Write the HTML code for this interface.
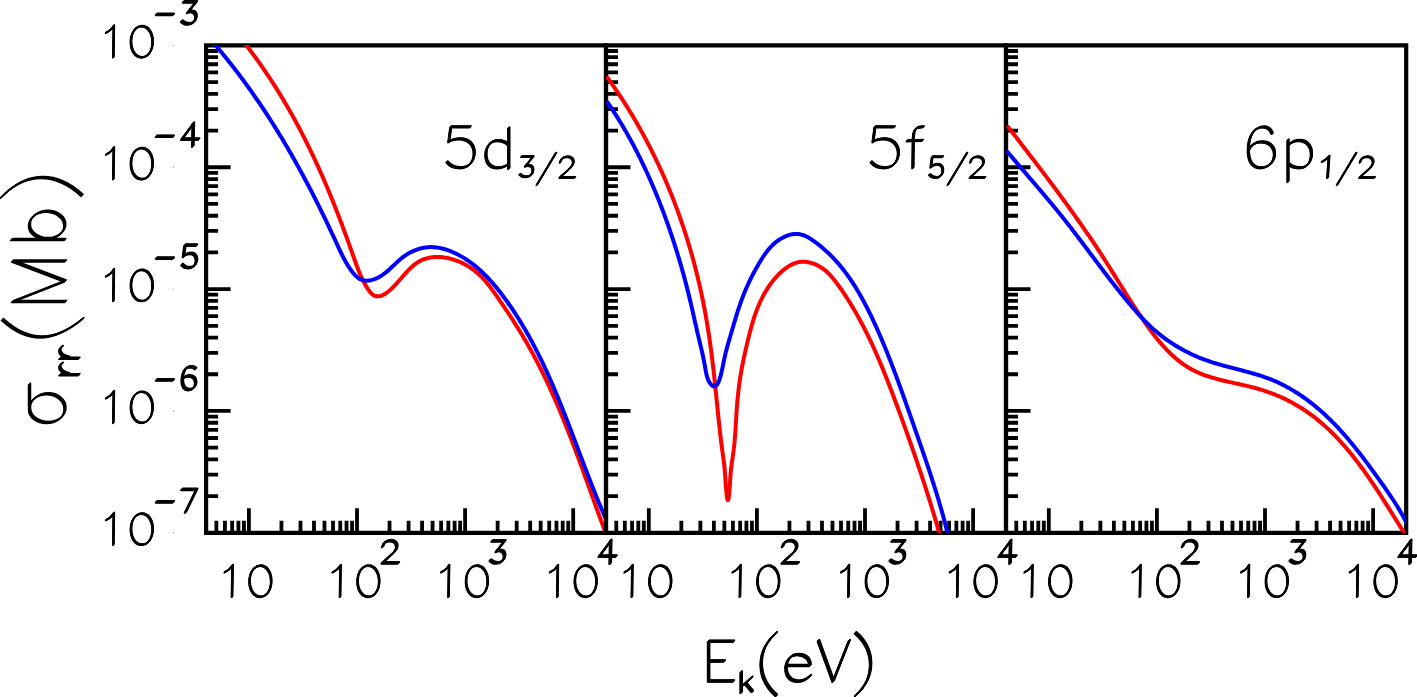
<!DOCTYPE html>
<html><head><meta charset="utf-8"><title>Radiative recombination cross sections</title>
<style>html,body{margin:0;padding:0;background:#fff;width:1417px;height:697px;overflow:hidden;font-family:"Liberation Sans",sans-serif}svg{display:block}</style>
</head><body>
<svg width="1417" height="697" viewBox="0 0 1417 697"><defs><clipPath id="c0"><rect x="202.1" y="45.1" width="403.9" height="487.7"/></clipPath><clipPath id="c1"><rect x="602" y="45.1" width="404" height="487.7"/></clipPath><clipPath id="c2"><rect x="1002" y="45.1" width="404.2" height="487.7"/></clipPath></defs><g stroke="#000" fill="none"><path d="M206.1,45.4 H606 V532.8 H206.1 Z" stroke-width="4.2"/><path d="M206.1,130.57H218.1M206.1,109.11H218.1M206.1,93.89H218.1M206.1,82.08H218.1M206.1,72.43H218.1M206.1,64.27H218.1M206.1,57.21H218.1M206.1,50.98H218.1M206.1,167.25H230.6M206.1,252.42H218.1M206.1,230.96H218.1M206.1,215.74H218.1M206.1,203.93H218.1M206.1,194.28H218.1M206.1,186.12H218.1M206.1,179.06H218.1M206.1,172.83H218.1M206.1,289.1H230.6M206.1,374.27H218.1M206.1,352.81H218.1M206.1,337.59H218.1M206.1,325.78H218.1M206.1,316.13H218.1M206.1,307.97H218.1M206.1,300.91H218.1M206.1,294.68H218.1M206.1,410.95H230.6M206.1,496.12H218.1M206.1,474.66H218.1M206.1,459.44H218.1M206.1,447.63H218.1M206.1,437.98H218.1M206.1,429.82H218.1M206.1,422.76H218.1M206.1,416.53H218.1M248.9,532.8V508.3M357,532.8V508.3M465.1,532.8V508.3M573.2,532.8V508.3M216.36,532.8V520.8M224.92,532.8V520.8M232.16,532.8V520.8M238.42,532.8V520.8M243.95,532.8V520.8M281.44,532.8V520.8M300.48,532.8V520.8M313.98,532.8V520.8M324.46,532.8V520.8M333.02,532.8V520.8M340.26,532.8V520.8M346.52,532.8V520.8M352.05,532.8V520.8M389.54,532.8V520.8M408.58,532.8V520.8M422.08,532.8V520.8M432.56,532.8V520.8M441.12,532.8V520.8M448.36,532.8V520.8M454.62,532.8V520.8M460.15,532.8V520.8M497.64,532.8V520.8M516.68,532.8V520.8M530.18,532.8V520.8M540.66,532.8V520.8M549.22,532.8V520.8M556.46,532.8V520.8M562.72,532.8V520.8M568.25,532.8V520.8" stroke-width="3.8"/></g><g clip-path="url(#c0)" fill="none" stroke-width="4" stroke-linejoin="round" stroke-linecap="round"><path stroke="#ff0000" d="M241.82,39.55L242.76,40.73L243.69,41.92L244.62,43.1L245.55,44.29L246.47,45.49L247.39,46.68L248.31,47.88L249.22,49.07L250.13,50.28L251.03,51.48L251.93,52.68L252.83,53.89L253.72,55.1L254.61,56.31L255.5,57.53L256.38,58.75L257.25,59.96L258.13,61.19L259,62.41L259.87,63.64L260.73,64.86L261.59,66.09L262.44,67.33L263.3,68.56L264.15,69.8L264.99,71.03L265.83,72.28L266.67,73.52L267.51,74.76L268.34,76.01L269.16,77.26L269.99,78.51L270.81,79.76L271.63,81.02L272.44,82.28L273.25,83.54L274.06,84.8L274.86,86.06L275.66,87.33L276.46,88.59L277.25,89.86L278.04,91.13L278.83,92.41L279.61,93.68L280.39,94.96L281.17,96.24L281.94,97.52L282.71,98.8L283.48,100.08L284.24,101.37L285,102.66L285.76,103.95L286.51,105.24L287.26,106.53L288.01,107.83L288.75,109.13L289.5,110.43L290.23,111.73L290.97,113.03L291.7,114.33L292.43,115.64L293.15,116.95L293.88,118.26L294.6,119.57L295.31,120.88L296.03,122.2L296.74,123.51L297.45,124.83L298.15,126.15L298.85,127.47L299.55,128.79L300.25,130.12L300.94,131.44L301.63,132.77L302.32,134.1L303,135.43L303.68,136.76L304.36,138.1L305.04,139.43L305.71,140.77L306.38,142.11L307.05,143.45L307.71,144.79L308.37,146.13L309.03,147.48L309.69,148.82L310.34,150.17L310.99,151.52L311.64,152.87L312.29,154.22L312.93,155.57L313.57,156.93L314.21,158.29L314.84,159.64L315.47,161L316.1,162.36L316.73,163.72L317.35,165.08L317.98,166.45L318.59,167.81L319.21,169.18L319.83,170.55L320.44,171.92L321.05,173.29L321.65,174.66L322.26,176.03L322.86,177.41L323.46,178.78L324.06,180.16L324.65,181.54L325.24,182.92L325.83,184.3L326.42,185.68L327.01,187.06L327.59,188.44L328.17,189.83L328.75,191.21L329.32,192.6L329.9,193.99L330.47,195.38L331.04,196.77L331.6,198.16L332.17,199.55L332.73,200.94L333.29,202.34L333.85,203.73L334.4,205.13L334.96,206.53L335.51,207.93L336.06,209.33L336.61,210.73L337.15,212.13L337.7,213.53L338.24,214.93L338.78,216.34L339.31,217.74L339.85,219.15L340.38,220.55L340.91,221.96L341.44,223.37L341.97,224.78L342.49,226.18L343.02,227.59L343.54,229L344.06,230.41L344.58,231.82L345.09,233.22L345.61,234.63L346.12,236.04L346.63,237.44L347.14,238.85L347.65,240.25L348.16,241.66L348.66,243.06L349.17,244.46L349.67,245.86L350.17,247.26L350.67,248.66L351.17,250.05L351.66,251.45L352.16,252.84L352.65,254.23L353.14,255.62L353.63,257.01L354.12,258.39L354.61,259.77L355.1,261.15L355.59,262.53L356.09,263.91L356.59,265.29L357.1,266.67L357.63,268.05L358.16,269.44L358.71,270.82L359.28,272.21L359.86,273.61L360.47,275.01L361.1,276.42L361.76,277.83L362.44,279.25L363.16,280.68L363.9,282.11L364.68,283.56L365.49,285.01L366.35,286.48L367.24,287.95L368.17,289.4L369.14,290.78L370.14,292.08L371.17,293.24L372.24,294.25L373.33,295.06L374.45,295.66L375.6,296.07L376.77,296.3L377.95,296.36L379.15,296.25L380.36,296L381.58,295.6L382.81,295.09L384.04,294.46L385.26,293.72L386.49,292.9L387.7,291.99L388.91,291.02L390.1,289.99L391.28,288.91L392.44,287.8L393.58,286.67L394.71,285.5L395.82,284.32L396.91,283.13L398,281.92L399.07,280.7L400.14,279.48L401.2,278.25L402.26,277.03L403.32,275.81L404.38,274.61L405.44,273.42L406.5,272.24L407.57,271.09L408.65,269.96L409.73,268.86L410.83,267.8L411.94,266.77L413.07,265.77L414.21,264.83L415.38,263.93L416.56,263.08L417.77,262.29L419,261.55L420.25,260.88L421.53,260.26L422.83,259.7L424.15,259.19L425.48,258.74L426.84,258.34L428.21,257.99L429.59,257.7L430.99,257.45L432.4,257.26L433.82,257.12L435.26,257.02L436.7,256.98L438.15,256.98L439.6,257.02L441.06,257.11L442.53,257.25L444,257.43L445.46,257.65L446.93,257.91L448.4,258.22L449.87,258.56L451.33,258.95L452.79,259.37L454.24,259.83L455.69,260.32L457.12,260.86L458.55,261.42L459.97,262.02L461.37,262.66L462.76,263.32L464.14,264.02L465.5,264.75L466.85,265.51L468.17,266.3L469.48,267.11L470.77,267.95L472.03,268.82L473.27,269.72L474.49,270.63L475.68,271.58L476.85,272.54L477.99,273.53L479.1,274.54L480.19,275.56L481.25,276.61L482.29,277.68L483.32,278.76L484.32,279.86L485.3,280.97L486.27,282.1L487.22,283.24L488.15,284.4L489.07,285.56L489.98,286.74L490.88,287.92L491.77,289.12L492.64,290.32L493.52,291.53L494.38,292.74L495.24,293.96L496.1,295.18L496.95,296.41L497.8,297.63L498.65,298.86L499.5,300.09L500.35,301.33L501.2,302.56L502.04,303.8L502.88,305.03L503.73,306.27L504.56,307.52L505.4,308.76L506.23,310L507.07,311.25L507.9,312.5L508.72,313.75L509.55,315.01L510.37,316.26L511.19,317.52L512.01,318.78L512.82,320.04L513.63,321.3L514.44,322.57L515.24,323.84L516.04,325.11L516.84,326.38L517.64,327.65L518.43,328.93L519.22,330.2L520,331.48L520.78,332.77L521.56,334.05L522.33,335.34L523.1,336.62L523.86,337.91L524.63,339.21L525.38,340.5L526.14,341.8L526.88,343.1L527.63,344.4L528.37,345.7L529.1,347.01L529.83,348.31L530.56,349.62L531.29,350.93L532,352.25L532.72,353.56L533.43,354.88L534.14,356.2L534.84,357.52L535.54,358.84L536.24,360.17L536.93,361.5L537.62,362.83L538.3,364.16L538.98,365.49L539.66,366.82L540.34,368.16L541.01,369.5L541.67,370.84L542.34,372.18L543,373.52L543.65,374.87L544.3,376.21L544.95,377.56L545.6,378.91L546.24,380.26L546.88,381.61L547.52,382.97L548.16,384.32L548.79,385.68L549.41,387.04L550.04,388.4L550.66,389.76L551.28,391.12L551.89,392.49L552.51,393.85L553.12,395.22L553.72,396.59L554.33,397.96L554.93,399.33L555.53,400.7L556.13,402.08L556.72,403.45L557.31,404.83L557.9,406.2L558.49,407.58L559.07,408.96L559.65,410.34L560.23,411.72L560.81,413.11L561.39,414.49L561.96,415.88L562.53,417.26L563.1,418.65L563.66,420.04L564.23,421.42L564.79,422.81L565.35,424.21L565.91,425.6L566.46,426.99L567.02,428.38L567.57,429.78L568.12,431.17L568.67,432.57L569.21,433.96L569.76,435.36L570.3,436.76L570.84,438.16L571.38,439.56L571.92,440.96L572.46,442.36L572.99,443.76L573.53,445.16L574.06,446.57L574.59,447.97L575.12,449.37L575.65,450.78L576.18,452.18L576.71,453.59L577.23,454.99L577.75,456.4L578.28,457.81L578.8,459.21L579.32,460.62L579.84,462.03L580.36,463.44L580.88,464.84L581.39,466.25L581.91,467.66L582.43,469.07L582.94,470.48L583.45,471.89L583.97,473.3L584.48,474.71L584.99,476.12L585.5,477.53L586.01,478.94L586.52,480.35L587.03,481.76L587.54,483.17L588.05,484.58L588.56,485.99L589.07,487.4L589.58,488.82L590.09,490.23L590.6,491.64L591.1,493.05L591.61,494.46L592.12,495.87L592.63,497.28L593.13,498.69L593.64,500.1L594.15,501.51L594.66,502.92L595.16,504.32L595.67,505.73L596.18,507.14L596.69,508.55L597.2,509.96L597.71,511.36L598.22,512.77L598.73,514.18L599.24,515.58L599.75,516.99L600.26,518.39L600.77,519.8L601.29,521.2L601.8,522.61L602.31,524.01L602.83,525.41L603.35,526.81L603.86,528.22L604.38,529.62L604.9,531.02L605.42,532.42L605.94,533.81"/><path stroke="#0000ff" d="M211.2,40.2L212.18,41.34L213.17,42.47L214.14,43.61L215.12,44.75L216.09,45.9L217.07,47.05L218.03,48.19L219,49.34L219.96,50.5L220.92,51.65L221.87,52.81L222.83,53.97L223.78,55.13L224.72,56.3L225.67,57.46L226.61,58.63L227.54,59.8L228.48,60.97L229.41,62.15L230.34,63.32L231.27,64.5L232.19,65.68L233.11,66.86L234.03,68.05L234.95,69.23L235.86,70.42L236.77,71.61L237.67,72.8L238.58,74L239.48,75.2L240.38,76.39L241.27,77.59L242.17,78.8L243.06,80L243.94,81.21L244.83,82.41L245.71,83.62L246.59,84.83L247.47,86.05L248.34,87.26L249.21,88.48L250.08,89.7L250.94,90.92L251.81,92.14L252.67,93.37L253.53,94.59L254.38,95.82L255.23,97.05L256.09,98.28L256.93,99.52L257.78,100.75L258.62,101.99L259.46,103.22L260.3,104.46L261.13,105.71L261.96,106.95L262.79,108.19L263.62,109.44L264.45,110.69L265.27,111.94L266.09,113.19L266.91,114.44L267.72,115.7L268.53,116.96L269.34,118.21L270.15,119.47L270.96,120.73L271.76,122L272.56,123.26L273.36,124.53L274.15,125.79L274.95,127.06L275.74,128.33L276.53,129.6L277.31,130.88L278.1,132.15L278.88,133.43L279.66,134.71L280.43,135.99L281.21,137.27L281.98,138.55L282.75,139.83L283.52,141.12L284.28,142.4L285.05,143.69L285.81,144.98L286.57,146.27L287.32,147.56L288.08,148.85L288.83,150.15L289.58,151.44L290.33,152.74L291.07,154.04L291.82,155.34L292.56,156.64L293.3,157.94L294.04,159.24L294.77,160.55L295.5,161.85L296.24,163.16L296.96,164.47L297.69,165.77L298.42,167.08L299.14,168.4L299.86,169.71L300.58,171.02L301.29,172.34L302.01,173.65L302.72,174.97L303.43,176.29L304.14,177.61L304.85,178.93L305.55,180.25L306.25,181.57L306.95,182.9L307.65,184.22L308.35,185.55L309.04,186.87L309.74,188.2L310.43,189.53L311.12,190.86L311.81,192.19L312.49,193.52L313.17,194.85L313.86,196.19L314.54,197.52L315.21,198.86L315.89,200.19L316.56,201.53L317.24,202.87L317.91,204.21L318.58,205.55L319.24,206.89L319.91,208.23L320.57,209.57L321.24,210.92L321.9,212.26L322.55,213.6L323.21,214.95L323.87,216.29L324.52,217.64L325.17,218.99L325.82,220.34L326.47,221.68L327.12,223.03L327.76,224.38L328.4,225.73L329.05,227.08L329.69,228.43L330.32,229.78L330.96,231.13L331.6,232.49L332.23,233.84L332.86,235.19L333.49,236.54L334.12,237.9L334.75,239.25L335.38,240.61L336,241.96L336.62,243.31L337.24,244.67L337.86,246.02L338.48,247.38L339.11,248.73L339.74,250.09L340.37,251.44L341.02,252.79L341.67,254.14L342.34,255.49L343.02,256.84L343.71,258.18L344.43,259.52L345.16,260.87L345.92,262.2L346.7,263.54L347.5,264.87L348.34,266.2L349.2,267.52L350.09,268.84L351.02,270.16L351.98,271.47L352.98,272.76L354.01,274.02L355.09,275.22L356.21,276.34L357.37,277.35L358.57,278.24L359.81,278.99L361.1,279.58L362.42,280.04L363.78,280.36L365.16,280.56L366.56,280.63L367.97,280.59L369.39,280.44L370.82,280.19L372.24,279.85L373.66,279.43L375.06,278.92L376.45,278.34L377.81,277.7L379.14,277L380.44,276.24L381.71,275.44L382.94,274.6L384.16,273.72L385.35,272.8L386.51,271.85L387.67,270.88L388.8,269.88L389.93,268.86L391.05,267.83L392.16,266.79L393.27,265.74L394.38,264.69L395.49,263.64L396.61,262.59L397.74,261.56L398.88,260.53L400.03,259.53L401.21,258.55L402.4,257.59L403.62,256.66L404.86,255.77L406.14,254.91L407.43,254.09L408.76,253.31L410.1,252.57L411.47,251.87L412.85,251.21L414.26,250.6L415.67,250.03L417.11,249.51L418.55,249.04L420,248.61L421.46,248.24L422.93,247.92L424.41,247.64L425.88,247.43L427.36,247.27L428.84,247.16L430.32,247.11L431.79,247.11L433.26,247.16L434.73,247.26L436.2,247.41L437.66,247.61L439.12,247.85L440.57,248.13L442.02,248.46L443.46,248.82L444.89,249.22L446.31,249.66L447.73,250.13L449.13,250.64L450.53,251.17L451.91,251.74L453.29,252.33L454.65,252.95L456,253.59L457.34,254.26L458.66,254.95L459.98,255.65L461.27,256.38L462.56,257.13L463.83,257.9L465.09,258.69L466.34,259.49L467.57,260.32L468.79,261.16L470,262.02L471.2,262.89L472.39,263.79L473.56,264.7L474.73,265.62L475.88,266.56L477.02,267.52L478.15,268.49L479.27,269.48L480.38,270.48L481.48,271.49L482.57,272.52L483.64,273.56L484.71,274.61L485.77,275.67L486.82,276.75L487.86,277.83L488.89,278.93L489.91,280.04L490.92,281.16L491.92,282.28L492.92,283.42L493.9,284.57L494.88,285.72L495.85,286.88L496.81,288.05L497.76,289.23L498.7,290.41L499.64,291.6L500.57,292.79L501.49,293.99L502.41,295.2L503.32,296.41L504.22,297.63L505.11,298.85L506,300.07L506.88,301.29L507.76,302.52L508.63,303.76L509.49,304.99L510.35,306.23L511.2,307.47L512.04,308.72L512.88,309.96L513.71,311.21L514.54,312.47L515.36,313.72L516.18,314.98L516.99,316.25L517.79,317.51L518.59,318.78L519.38,320.05L520.17,321.32L520.95,322.6L521.73,323.88L522.5,325.16L523.27,326.44L524.03,327.73L524.79,329.02L525.54,330.31L526.28,331.6L527.02,332.9L527.76,334.2L528.49,335.5L529.22,336.8L529.94,338.11L530.66,339.42L531.37,340.73L532.08,342.04L532.78,343.36L533.48,344.68L534.18,346L534.87,347.32L535.55,348.64L536.24,349.97L536.91,351.3L537.59,352.63L538.26,353.96L538.92,355.29L539.59,356.63L540.24,357.97L540.9,359.31L541.55,360.65L542.2,362L542.84,363.34L543.48,364.69L544.11,366.04L544.75,367.39L545.38,368.74L546,370.1L546.63,371.45L547.24,372.81L547.86,374.17L548.47,375.53L549.08,376.89L549.69,378.26L550.3,379.62L550.9,380.99L551.5,382.36L552.09,383.73L552.68,385.1L553.28,386.47L553.86,387.84L554.45,389.22L555.03,390.59L555.61,391.97L556.19,393.35L556.77,394.73L557.34,396.11L557.91,397.49L558.48,398.88L559.05,400.26L559.61,401.65L560.17,403.03L560.74,404.42L561.29,405.81L561.85,407.19L562.41,408.58L562.96,409.98L563.51,411.37L564.07,412.76L564.61,414.15L565.16,415.55L565.71,416.94L566.25,418.33L566.8,419.73L567.34,421.13L567.88,422.52L568.42,423.92L568.96,425.32L569.5,426.72L570.04,428.12L570.57,429.52L571.11,430.92L571.65,432.32L572.18,433.72L572.71,435.12L573.25,436.52L573.78,437.92L574.31,439.32L574.84,440.72L575.37,442.12L575.9,443.53L576.44,444.93L576.97,446.33L577.5,447.73L578.03,449.14L578.56,450.54L579.09,451.94L579.62,453.34L580.15,454.75L580.68,456.15L581.21,457.55L581.74,458.95L582.27,460.36L582.81,461.76L583.34,463.16L583.87,464.56L584.4,465.96L584.94,467.36L585.47,468.76L586.01,470.16L586.55,471.56L587.09,472.96L587.62,474.36L588.16,475.75L588.7,477.15L589.25,478.55L589.79,479.94L590.33,481.34L590.88,482.73L591.43,484.13L591.97,485.52L592.52,486.92L593.08,488.31L593.63,489.7L594.18,491.09L594.74,492.48L595.3,493.87L595.86,495.25L596.42,496.64L596.98,498.03L597.55,499.41L598.12,500.8L598.68,502.18L599.26,503.56L599.83,504.94L600.41,506.32L600.99,507.7L601.57,509.08L602.15,510.45L602.74,511.83L603.33,513.2L603.92,514.57L604.51,515.94L605.11,517.31L605.71,518.68L606.31,520.05L606.91,521.41L607.52,522.77"/></g><g stroke="#000" fill="none"><path d="M606,45.4 H1006 V532.8 H606 Z" stroke-width="4.2"/><path d="M606,130.57H618M606,109.11H618M606,93.89H618M606,82.08H618M606,72.43H618M606,64.27H618M606,57.21H618M606,50.98H618M606,167.25H630.5M606,252.42H618M606,230.96H618M606,215.74H618M606,203.93H618M606,194.28H618M606,186.12H618M606,179.06H618M606,172.83H618M606,289.1H630.5M606,374.27H618M606,352.81H618M606,337.59H618M606,325.78H618M606,316.13H618M606,307.97H618M606,300.91H618M606,294.68H618M606,410.95H630.5M606,496.12H618M606,474.66H618M606,459.44H618M606,447.63H618M606,437.98H618M606,429.82H618M606,422.76H618M606,416.53H618M648.8,532.8V508.3M756.9,532.8V508.3M865,532.8V508.3M973.1,532.8V508.3M616.26,532.8V520.8M624.82,532.8V520.8M632.06,532.8V520.8M638.32,532.8V520.8M643.85,532.8V520.8M681.34,532.8V520.8M700.38,532.8V520.8M713.88,532.8V520.8M724.36,532.8V520.8M732.92,532.8V520.8M740.16,532.8V520.8M746.42,532.8V520.8M751.95,532.8V520.8M789.44,532.8V520.8M808.48,532.8V520.8M821.98,532.8V520.8M832.46,532.8V520.8M841.02,532.8V520.8M848.26,532.8V520.8M854.52,532.8V520.8M860.05,532.8V520.8M897.54,532.8V520.8M916.58,532.8V520.8M930.08,532.8V520.8M940.56,532.8V520.8M949.12,532.8V520.8M956.36,532.8V520.8M962.62,532.8V520.8M968.15,532.8V520.8" stroke-width="3.8"/></g><g clip-path="url(#c1)" fill="none" stroke-width="4" stroke-linejoin="round" stroke-linecap="round"><path stroke="#ff0000" d="M607.72,77.95L608.6,79.18L609.47,80.4L610.34,81.63L611.21,82.86L612.07,84.09L612.93,85.32L613.78,86.56L614.63,87.8L615.48,89.04L616.32,90.28L617.16,91.53L618,92.77L618.83,94.02L619.66,95.27L620.48,96.53L621.3,97.79L622.12,99.04L622.94,100.3L623.75,101.57L624.55,102.83L625.36,104.1L626.16,105.37L626.95,106.64L627.74,107.91L628.53,109.19L629.32,110.46L630.1,111.74L630.87,113.02L631.65,114.31L632.42,115.59L633.18,116.88L633.95,118.17L634.7,119.46L635.46,120.76L636.21,122.05L636.96,123.35L637.7,124.65L638.44,125.95L639.18,127.25L639.91,128.56L640.64,129.87L641.37,131.18L642.09,132.49L642.81,133.8L643.53,135.12L644.24,136.43L644.95,137.75L645.65,139.07L646.35,140.39L647.05,141.72L647.74,143.04L648.43,144.37L649.12,145.7L649.8,147.03L650.48,148.37L651.16,149.7L651.83,151.04L652.5,152.38L653.16,153.72L653.82,155.06L654.48,156.4L655.13,157.75L655.78,159.1L656.43,160.44L657.07,161.79L657.71,163.15L658.35,164.5L658.98,165.86L659.61,167.21L660.23,168.57L660.85,169.93L661.47,171.3L662.09,172.66L662.7,174.02L663.3,175.39L663.91,176.76L664.51,178.13L665.1,179.5L665.7,180.87L666.28,182.25L666.87,183.63L667.45,185L668.03,186.38L668.61,187.76L669.18,189.15L669.74,190.53L670.31,191.91L670.87,193.3L671.43,194.69L671.98,196.08L672.53,197.47L673.08,198.86L673.62,200.25L674.16,201.65L674.69,203.05L675.23,204.44L675.76,205.84L676.28,207.24L676.8,208.65L677.32,210.05L677.83,211.45L678.35,212.86L678.85,214.27L679.36,215.68L679.86,217.08L680.35,218.5L680.85,219.91L681.34,221.32L681.82,222.74L682.31,224.15L682.79,225.57L683.26,226.99L683.73,228.41L684.2,229.83L684.67,231.25L685.13,232.67L685.59,234.1L686.04,235.52L686.49,236.95L686.94,238.38L687.39,239.81L687.83,241.24L688.26,242.67L688.7,244.1L689.13,245.53L689.55,246.97L689.98,248.4L690.4,249.84L690.81,251.28L691.23,252.72L691.64,254.16L692.04,255.6L692.44,257.04L692.84,258.48L693.24,259.92L693.63,261.37L694.02,262.81L694.4,264.26L694.78,265.71L695.16,267.16L695.54,268.61L695.91,270.06L696.28,271.51L696.64,272.96L697,274.41L697.36,275.86L697.71,277.32L698.06,278.77L698.41,280.23L698.75,281.69L699.09,283.15L699.43,284.6L699.76,286.06L700.09,287.52L700.42,288.99L700.74,290.45L701.06,291.91L701.37,293.37L701.69,294.84L702,296.3L702.3,297.77L702.6,299.23L702.9,300.7L703.2,302.17L703.49,303.64L703.78,305.11L704.06,306.57L704.34,308.04L704.62,309.52L704.9,310.99L705.17,312.46L705.44,313.93L705.7,315.41L705.96,316.88L706.22,318.35L706.47,319.83L706.73,321.3L706.97,322.78L707.22,324.26L707.46,325.73L707.7,327.21L707.94,328.69L708.17,330.17L708.4,331.65L708.63,333.13L708.85,334.61L709.07,336.09L709.29,337.57L709.51,339.05L709.72,340.53L709.93,342.02L710.14,343.5L710.35,344.98L710.55,346.47L710.75,347.95L710.95,349.44L711.15,350.92L711.34,352.41L711.53,353.89L711.72,355.38L711.91,356.86L712.1,358.35L712.28,359.84L712.46,361.33L712.64,362.81L712.82,364.3L713,365.79L713.17,367.28L713.34,368.77L713.52,370.26L713.69,371.75L713.85,373.24L714.02,374.72L714.19,376.22L714.35,377.71L714.51,379.2L714.67,380.69L714.83,382.18L714.99,383.67L715.15,385.16L715.3,386.65L715.46,388.14L715.61,389.63L715.77,391.13L715.92,392.62L716.07,394.11L716.22,395.6L716.37,397.09L716.52,398.58L716.67,400.08L716.83,401.57L716.98,403.06L717.13,404.55L717.28,406.04L717.43,407.53L717.58,409.02L717.73,410.51L717.88,412L718.04,413.49L718.19,414.98L718.34,416.47L718.5,417.96L718.66,419.45L718.81,420.94L718.97,422.43L719.13,423.92L719.29,425.4L719.45,426.89L719.62,428.37L719.78,429.86L719.95,431.35L720.12,432.83L720.29,434.31L720.46,435.8L720.64,437.28L720.82,438.76L721,440.24L721.18,441.72L721.36,443.2L721.55,444.68L721.74,446.16L721.93,447.64L722.13,449.11L722.33,450.59L722.53,452.06L722.73,453.54L722.93,455.01L723.14,456.49L723.34,457.96L723.53,459.43L723.72,460.91L723.91,462.38L724.09,463.85L724.27,465.33L724.43,466.8L724.58,468.27L724.72,469.75L724.85,471.23L724.97,472.71L725.08,474.2L725.19,475.7L725.28,477.22L725.38,478.76L725.48,480.32L725.59,481.92L725.7,483.55L725.82,485.23L725.95,486.94L726.1,488.71L726.26,490.53L726.45,492.4L726.65,494.26L726.87,496.01L727.09,497.57L727.33,498.84L727.57,499.75L727.81,500.21L728.05,500.13L728.29,499.54L728.52,498.52L728.74,497.15L728.96,495.53L729.15,493.74L729.33,491.87L729.5,490.01L729.64,488.19L729.77,486.43L729.89,484.72L730,483.04L730.1,481.41L730.19,479.81L730.29,478.24L730.39,476.69L730.49,475.17L730.6,473.67L730.72,472.18L730.86,470.7L731.01,469.23L731.17,467.77L731.35,466.3L731.55,464.85L731.75,463.39L731.95,461.94L732.17,460.48L732.38,459.03L732.6,457.58L732.82,456.12L733.04,454.67L733.25,453.21L733.45,451.75L733.64,450.29L733.83,448.82L734,447.34L734.17,445.86L734.32,444.38L734.47,442.9L734.61,441.41L734.74,439.92L734.86,438.42L734.98,436.92L735.09,435.42L735.2,433.92L735.31,432.42L735.4,430.91L735.5,429.41L735.59,427.9L735.68,426.39L735.77,424.88L735.86,423.37L735.95,421.87L736.04,420.36L736.12,418.85L736.21,417.34L736.3,415.84L736.4,414.33L736.49,412.83L736.59,411.33L736.7,409.83L736.8,408.33L736.92,406.84L737.03,405.35L737.15,403.86L737.28,402.37L737.41,400.88L737.55,399.4L737.69,397.92L737.84,396.44L737.99,394.96L738.14,393.48L738.31,392L738.48,390.53L738.65,389.05L738.83,387.58L739.02,386.11L739.21,384.64L739.4,383.17L739.61,381.71L739.82,380.24L740.04,378.77L740.26,377.31L740.49,375.85L740.73,374.38L740.97,372.92L741.22,371.46L741.48,370L741.74,368.54L742.02,367.08L742.3,365.62L742.58,364.16L742.87,362.7L743.17,361.24L743.48,359.78L743.79,358.32L744.1,356.86L744.42,355.4L744.74,353.94L745.07,352.49L745.4,351.03L745.73,349.57L746.07,348.11L746.4,346.65L746.74,345.19L747.09,343.73L747.43,342.27L747.78,340.81L748.13,339.35L748.48,337.89L748.84,336.43L749.2,334.97L749.57,333.52L749.94,332.06L750.32,330.61L750.71,329.16L751.1,327.71L751.5,326.26L751.91,324.82L752.33,323.38L752.76,321.94L753.2,320.51L753.64,319.08L754.1,317.66L754.57,316.24L755.05,314.82L755.54,313.41L756.05,312L756.56,310.6L757.1,309.2L757.64,307.81L758.2,306.43L758.78,305.05L759.37,303.68L759.98,302.31L760.6,300.95L761.24,299.6L761.9,298.26L762.58,296.92L763.28,295.59L763.99,294.27L764.73,292.96L765.48,291.66L766.26,290.36L767.05,289.08L767.87,287.81L768.71,286.55L769.56,285.31L770.44,284.07L771.34,282.86L772.26,281.66L773.21,280.47L774.17,279.31L775.15,278.16L776.16,277.03L777.19,275.93L778.24,274.84L779.31,273.78L780.41,272.74L781.53,271.72L782.67,270.73L783.83,269.76L785.02,268.83L786.22,267.93L787.45,267.07L788.7,266.26L789.98,265.5L791.27,264.8L792.59,264.15L793.93,263.57L795.29,263.06L796.67,262.63L798.07,262.27L799.5,262L800.94,261.82L802.4,261.73L803.88,261.73L805.37,261.82L806.87,261.99L808.37,262.24L809.86,262.56L811.35,262.96L812.82,263.42L814.28,263.95L815.71,264.54L817.12,265.19L818.49,265.89L819.83,266.64L821.12,267.44L822.38,268.28L823.6,269.16L824.78,270.08L825.93,271.04L827.05,272.04L828.14,273.06L829.19,274.12L830.23,275.2L831.23,276.3L832.22,277.43L833.18,278.58L834.13,279.75L835.06,280.94L835.97,282.13L836.87,283.34L837.76,284.56L838.65,285.78L839.52,287.01L840.39,288.24L841.25,289.48L842.1,290.72L842.94,291.96L843.78,293.2L844.62,294.45L845.44,295.71L846.26,296.96L847.08,298.22L847.88,299.49L848.68,300.75L849.48,302.02L850.27,303.3L851.05,304.57L851.82,305.85L852.6,307.13L853.36,308.42L854.12,309.71L854.87,311L855.62,312.3L856.36,313.59L857.09,314.9L857.82,316.2L858.55,317.51L859.27,318.82L859.98,320.13L860.69,321.44L861.4,322.76L862.1,324.08L862.79,325.4L863.48,326.73L864.16,328.06L864.84,329.39L865.52,330.72L866.19,332.05L866.85,333.39L867.51,334.73L868.17,336.07L868.82,337.42L869.47,338.76L870.11,340.11L870.75,341.46L871.39,342.82L872.02,344.17L872.64,345.53L873.27,346.89L873.89,348.25L874.5,349.61L875.11,350.98L875.72,352.34L876.33,353.71L876.93,355.08L877.52,356.45L878.12,357.83L878.71,359.2L879.3,360.58L879.88,361.96L880.46,363.34L881.04,364.72L881.62,366.1L882.19,367.48L882.76,368.87L883.33,370.25L883.89,371.64L884.45,373.03L885.01,374.42L885.57,375.81L886.13,377.2L886.68,378.6L887.23,379.99L887.78,381.39L888.32,382.78L888.87,384.18L889.41,385.58L889.95,386.98L890.48,388.38L891.02,389.78L891.55,391.18L892.09,392.58L892.62,393.98L893.15,395.39L893.68,396.79L894.2,398.19L894.73,399.6L895.25,401L895.78,402.41L896.3,403.81L896.82,405.22L897.34,406.63L897.86,408.03L898.38,409.44L898.89,410.85L899.41,412.25L899.93,413.66L900.44,415.07L900.96,416.48L901.47,417.88L901.98,419.29L902.5,420.7L903.01,422.11L903.52,423.52L904.03,424.92L904.54,426.33L905.04,427.74L905.55,429.15L906.06,430.56L906.56,431.97L907.07,433.38L907.57,434.79L908.07,436.2L908.57,437.61L909.07,439.02L909.57,440.44L910.07,441.85L910.57,443.26L911.06,444.67L911.56,446.08L912.05,447.5L912.54,448.91L913.04,450.32L913.53,451.74L914.02,453.15L914.51,454.57L914.99,455.98L915.48,457.4L915.96,458.81L916.45,460.23L916.93,461.65L917.41,463.06L917.89,464.48L918.37,465.9L918.85,467.31L919.33,468.73L919.8,470.15L920.28,471.57L920.75,472.99L921.22,474.41L921.69,475.83L922.16,477.25L922.63,478.67L923.09,480.1L923.56,481.52L924.02,482.94L924.48,484.36L924.94,485.79L925.4,487.21L925.86,488.64L926.32,490.06L926.77,491.49L927.23,492.91L927.68,494.34L928.13,495.77L928.58,497.2L929.03,498.63L929.47,500.05L929.92,501.48L930.36,502.91L930.8,504.35L931.24,505.78L931.68,507.21L932.12,508.64L932.55,510.07L932.99,511.51L933.42,512.94L933.85,514.38L934.28,515.81L934.7,517.25L935.13,518.69L935.55,520.12L935.98,521.56L936.4,523L936.81,524.44L937.23,525.88L937.65,527.32L938.06,528.76L938.47,530.2L938.88,531.65L939.29,533.09L939.69,534.53L940.1,535.98"/><path stroke="#0000ff" d="M607.55,102.33L608.39,103.57L609.23,104.81L610.07,106.06L610.9,107.31L611.73,108.56L612.55,109.81L613.37,111.07L614.18,112.33L614.99,113.59L615.79,114.85L616.59,116.12L617.39,117.39L618.18,118.66L618.97,119.94L619.75,121.22L620.53,122.5L621.3,123.78L622.07,125.07L622.84,126.36L623.6,127.65L624.36,128.94L625.11,130.24L625.86,131.53L626.6,132.83L627.34,134.14L628.08,135.44L628.81,136.75L629.54,138.06L630.26,139.37L630.98,140.69L631.7,142L632.41,143.32L633.12,144.64L633.82,145.97L634.52,147.29L635.21,148.62L635.91,149.95L636.59,151.28L637.28,152.61L637.96,153.95L638.63,155.29L639.3,156.63L639.97,157.97L640.64,159.31L641.3,160.66L641.95,162.01L642.6,163.36L643.25,164.71L643.9,166.06L644.54,167.42L645.18,168.77L645.81,170.13L646.44,171.49L647.07,172.86L647.69,174.22L648.31,175.59L648.92,176.95L649.54,178.32L650.14,179.69L650.75,181.06L651.35,182.44L651.95,183.81L652.54,185.19L653.13,186.57L653.72,187.95L654.3,189.33L654.88,190.71L655.46,192.1L656.03,193.49L656.6,194.87L657.16,196.26L657.73,197.65L658.28,199.04L658.84,200.44L659.39,201.83L659.94,203.22L660.49,204.62L661.03,206.02L661.57,207.42L662.1,208.82L662.64,210.22L663.17,211.62L663.69,213.02L664.21,214.43L664.73,215.83L665.25,217.24L665.76,218.65L666.27,220.06L666.78,221.47L667.28,222.88L667.78,224.29L668.28,225.7L668.78,227.11L669.27,228.53L669.76,229.94L670.24,231.36L670.72,232.78L671.2,234.19L671.68,235.61L672.15,237.03L672.62,238.45L673.09,239.87L673.55,241.29L674.02,242.71L674.47,244.14L674.93,245.56L675.38,246.98L675.83,248.41L676.28,249.83L676.72,251.26L677.16,252.69L677.6,254.12L678.04,255.55L678.47,256.98L678.9,258.41L679.33,259.84L679.75,261.27L680.17,262.71L680.59,264.14L681.01,265.58L681.42,267.02L681.83,268.46L682.23,269.9L682.64,271.34L683.04,272.78L683.44,274.23L683.83,275.67L684.23,277.12L684.62,278.57L685,280.02L685.39,281.47L685.77,282.92L686.15,284.37L686.52,285.83L686.9,287.28L687.27,288.74L687.63,290.2L688,291.66L688.36,293.13L688.72,294.59L689.07,296.06L689.43,297.53L689.78,299L690.13,300.47L690.47,301.94L690.82,303.41L691.16,304.89L691.5,306.36L691.83,307.83L692.17,309.31L692.51,310.78L692.84,312.25L693.17,313.73L693.5,315.2L693.83,316.66L694.16,318.13L694.49,319.59L694.82,321.06L695.15,322.52L695.48,323.97L695.81,325.43L696.14,326.88L696.47,328.32L696.8,329.76L697.13,331.2L697.46,332.63L697.8,334.06L698.13,335.49L698.47,336.9L698.81,338.32L699.15,339.73L699.49,341.13L699.83,342.54L700.17,343.94L700.51,345.36L700.85,346.77L701.19,348.19L701.52,349.63L701.86,351.07L702.19,352.52L702.52,353.99L702.84,355.48L703.16,356.98L703.48,358.5L703.79,360.04L704.1,361.61L704.4,363.2L704.69,364.82L704.98,366.47L705.27,368.14L705.56,369.83L705.87,371.51L706.21,373.18L706.59,374.82L707.02,376.43L707.5,377.99L708.05,379.49L708.68,380.91L709.39,382.24L710.2,383.48L711.1,384.58L712.06,385.49L713.04,386.15L714,386.49L714.92,386.46L715.77,386.07L716.58,385.36L717.33,384.36L718.03,383.13L718.68,381.7L719.29,380.12L719.85,378.43L720.37,376.66L720.85,374.87L721.29,373.08L721.7,371.35L722.07,369.69L722.41,368.09L722.73,366.55L723.04,365.06L723.33,363.61L723.61,362.18L723.9,360.77L724.19,359.38L724.48,357.99L724.79,356.59L725.11,355.19L725.45,353.78L725.8,352.36L726.16,350.93L726.54,349.5L726.92,348.06L727.31,346.62L727.71,345.18L728.12,343.73L728.53,342.28L728.94,340.83L729.36,339.37L729.79,337.92L730.21,336.46L730.64,335.01L731.06,333.56L731.49,332.11L731.91,330.66L732.33,329.21L732.76,327.76L733.18,326.32L733.6,324.88L734.02,323.44L734.45,322L734.88,320.57L735.31,319.14L735.74,317.71L736.18,316.28L736.62,314.85L737.06,313.43L737.51,312.01L737.96,310.59L738.42,309.17L738.89,307.76L739.36,306.34L739.84,304.93L740.33,303.53L740.82,302.12L741.33,300.72L741.84,299.32L742.36,297.92L742.89,296.52L743.43,295.13L743.99,293.74L744.55,292.35L745.12,290.96L745.71,289.58L746.3,288.2L746.91,286.83L747.52,285.45L748.15,284.08L748.78,282.72L749.42,281.36L750.08,280L750.74,278.65L751.41,277.3L752.09,275.95L752.78,274.61L753.48,273.28L754.19,271.95L754.9,270.63L755.63,269.31L756.36,268L757.1,266.69L757.85,265.39L758.61,264.09L759.37,262.8L760.15,261.52L760.93,260.25L761.72,258.98L762.52,257.72L763.34,256.48L764.17,255.25L765.02,254.03L765.89,252.83L766.77,251.65L767.68,250.48L768.62,249.34L769.58,248.22L770.56,247.13L771.58,246.06L772.63,245.02L773.71,244.01L774.83,243.02L775.98,242.07L777.17,241.16L778.4,240.28L779.68,239.44L780.99,238.63L782.35,237.87L783.74,237.16L785.16,236.51L786.6,235.91L788.07,235.38L789.54,234.93L791.03,234.55L792.52,234.26L794,234.06L795.48,233.96L796.94,233.96L798.39,234.06L799.82,234.27L801.23,234.58L802.62,234.99L803.99,235.47L805.34,236.03L806.68,236.66L807.99,237.35L809.3,238.09L810.58,238.88L811.85,239.71L813.11,240.56L814.35,241.44L815.58,242.34L816.8,243.24L818,244.16L819.19,245.09L820.36,246.04L821.53,246.99L822.68,247.96L823.81,248.94L824.94,249.93L826.05,250.93L827.15,251.94L828.24,252.97L829.31,254L830.38,255.05L831.43,256.1L832.47,257.17L833.5,258.25L834.52,259.33L835.53,260.43L836.53,261.53L837.51,262.65L838.49,263.77L839.45,264.9L840.41,266.05L841.35,267.2L842.28,268.36L843.21,269.52L844.12,270.7L845.03,271.88L845.92,273.08L846.81,274.28L847.68,275.48L848.55,276.7L849.41,277.92L850.26,279.15L851.1,280.38L851.93,281.63L852.75,282.88L853.57,284.13L854.37,285.39L855.17,286.66L855.96,287.93L856.74,289.21L857.52,290.5L858.29,291.79L859.05,293.08L859.8,294.38L860.55,295.69L861.29,297L862.02,298.31L862.74,299.63L863.46,300.95L864.17,302.28L864.88,303.61L865.58,304.95L866.28,306.28L866.96,307.63L867.65,308.97L868.32,310.32L869,311.67L869.66,313.02L870.32,314.37L870.98,315.73L871.63,317.09L872.28,318.45L872.92,319.82L873.56,321.18L874.19,322.55L874.82,323.92L875.45,325.29L876.07,326.66L876.69,328.03L877.3,329.4L877.91,330.77L878.52,332.15L879.12,333.52L879.72,334.9L880.31,336.27L880.9,337.65L881.49,339.03L882.08,340.41L882.66,341.79L883.24,343.17L883.82,344.55L884.39,345.94L884.96,347.32L885.52,348.7L886.09,350.09L886.65,351.48L887.21,352.86L887.76,354.25L888.32,355.64L888.87,357.03L889.41,358.42L889.96,359.81L890.5,361.2L891.04,362.59L891.58,363.99L892.11,365.38L892.65,366.77L893.18,368.17L893.71,369.56L894.24,370.96L894.76,372.36L895.29,373.76L895.81,375.15L896.33,376.55L896.85,377.95L897.36,379.35L897.88,380.75L898.39,382.16L898.9,383.56L899.41,384.96L899.92,386.36L900.43,387.77L900.94,389.17L901.44,390.58L901.95,391.98L902.45,393.39L902.95,394.79L903.45,396.2L903.95,397.61L904.45,399.02L904.95,400.42L905.45,401.83L905.95,403.24L906.44,404.65L906.94,406.06L907.43,407.47L907.93,408.88L908.43,410.29L908.92,411.7L909.41,413.12L909.91,414.53L910.4,415.94L910.9,417.35L911.39,418.77L911.89,420.18L912.38,421.59L912.88,423.01L913.37,424.42L913.86,425.84L914.36,427.25L914.85,428.67L915.35,430.08L915.84,431.5L916.34,432.91L916.83,434.33L917.33,435.75L917.82,437.16L918.32,438.58L918.81,440L919.3,441.42L919.8,442.84L920.29,444.26L920.78,445.67L921.27,447.09L921.76,448.51L922.25,449.93L922.74,451.35L923.23,452.78L923.71,454.2L924.2,455.62L924.68,457.04L925.17,458.46L925.65,459.89L926.13,461.31L926.61,462.73L927.09,464.16L927.57,465.58L928.05,467.01L928.52,468.43L928.99,469.86L929.47,471.28L929.94,472.71L930.4,474.14L930.87,475.57L931.34,476.99L931.8,478.42L932.26,479.85L932.72,481.28L933.18,482.71L933.63,484.14L934.09,485.57L934.54,487L934.99,488.43L935.44,489.87L935.88,491.3L936.32,492.73L936.76,494.17L937.2,495.6L937.64,497.04L938.07,498.47L938.5,499.91L938.93,501.34L939.35,502.78L939.77,504.22L940.19,505.66L940.61,507.09L941.02,508.53L941.43,509.97L941.84,511.41L942.25,512.85L942.65,514.29L943.04,515.74L943.44,517.18L943.83,518.62L944.22,520.06L944.6,521.51L944.99,522.95L945.36,524.4L945.74,525.84L946.11,527.29L946.48,528.74L946.84,530.19L947.2,531.63L947.56,533.08L947.91,534.53L948.26,535.98"/></g><g stroke="#000" fill="none"><path d="M1006,45.4 H1406.2 V532.8 H1006 Z" stroke-width="4.2"/><path d="M1006,130.57H1018M1006,109.11H1018M1006,93.89H1018M1006,82.08H1018M1006,72.43H1018M1006,64.27H1018M1006,57.21H1018M1006,50.98H1018M1006,167.25H1030.5M1006,252.42H1018M1006,230.96H1018M1006,215.74H1018M1006,203.93H1018M1006,194.28H1018M1006,186.12H1018M1006,179.06H1018M1006,172.83H1018M1006,289.1H1030.5M1006,374.27H1018M1006,352.81H1018M1006,337.59H1018M1006,325.78H1018M1006,316.13H1018M1006,307.97H1018M1006,300.91H1018M1006,294.68H1018M1006,410.95H1030.5M1006,496.12H1018M1006,474.66H1018M1006,459.44H1018M1006,447.63H1018M1006,437.98H1018M1006,429.82H1018M1006,422.76H1018M1006,416.53H1018M1048.8,532.8V508.3M1156.9,532.8V508.3M1265,532.8V508.3M1373.1,532.8V508.3M1016.26,532.8V520.8M1024.82,532.8V520.8M1032.06,532.8V520.8M1038.32,532.8V520.8M1043.85,532.8V520.8M1081.34,532.8V520.8M1100.38,532.8V520.8M1113.88,532.8V520.8M1124.36,532.8V520.8M1132.92,532.8V520.8M1140.16,532.8V520.8M1146.42,532.8V520.8M1151.95,532.8V520.8M1189.44,532.8V520.8M1208.48,532.8V520.8M1221.98,532.8V520.8M1232.46,532.8V520.8M1241.02,532.8V520.8M1248.26,532.8V520.8M1254.52,532.8V520.8M1260.05,532.8V520.8M1297.54,532.8V520.8M1316.58,532.8V520.8M1330.08,532.8V520.8M1340.56,532.8V520.8M1349.12,532.8V520.8M1356.36,532.8V520.8M1362.62,532.8V520.8M1368.15,532.8V520.8" stroke-width="3.8"/></g><g clip-path="url(#c2)" fill="none" stroke-width="4" stroke-linejoin="round" stroke-linecap="round"><path stroke="#ff0000" d="M1008.34,127.18L1009.25,128.37L1010.16,129.55L1011.08,130.73L1011.99,131.91L1012.9,133.1L1013.82,134.28L1014.73,135.46L1015.65,136.65L1016.56,137.83L1017.47,139.01L1018.39,140.2L1019.3,141.38L1020.21,142.57L1021.13,143.75L1022.04,144.94L1022.95,146.13L1023.87,147.31L1024.78,148.5L1025.69,149.69L1026.61,150.87L1027.52,152.06L1028.43,153.25L1029.34,154.44L1030.25,155.63L1031.16,156.82L1032.07,158.01L1032.99,159.2L1033.9,160.39L1034.8,161.58L1035.71,162.77L1036.62,163.96L1037.53,165.16L1038.44,166.35L1039.35,167.54L1040.25,168.74L1041.16,169.93L1042.06,171.13L1042.97,172.32L1043.87,173.52L1044.78,174.72L1045.68,175.92L1046.58,177.11L1047.48,178.31L1048.39,179.51L1049.29,180.71L1050.19,181.91L1051.08,183.11L1051.98,184.32L1052.88,185.52L1053.77,186.72L1054.67,187.92L1055.56,189.13L1056.46,190.33L1057.35,191.54L1058.24,192.75L1059.13,193.95L1060.02,195.16L1060.91,196.37L1061.8,197.58L1062.68,198.79L1063.57,200L1064.45,201.21L1065.34,202.43L1066.22,203.64L1067.1,204.85L1067.98,206.07L1068.86,207.28L1069.73,208.5L1070.61,209.72L1071.48,210.94L1072.36,212.15L1073.23,213.37L1074.1,214.6L1074.97,215.82L1075.84,217.04L1076.7,218.26L1077.57,219.49L1078.43,220.71L1079.29,221.94L1080.15,223.17L1081.01,224.39L1081.87,225.62L1082.72,226.85L1083.58,228.08L1084.43,229.32L1085.28,230.55L1086.13,231.78L1086.98,233.02L1087.82,234.25L1088.67,235.49L1089.51,236.73L1090.35,237.97L1091.19,239.21L1092.03,240.45L1092.86,241.69L1093.7,242.93L1094.53,244.18L1095.36,245.42L1096.19,246.67L1097.01,247.92L1097.84,249.17L1098.66,250.42L1099.48,251.67L1100.3,252.92L1101.11,254.17L1101.93,255.43L1102.74,256.68L1103.55,257.94L1104.36,259.2L1105.16,260.46L1105.96,261.72L1106.77,262.98L1107.57,264.24L1108.36,265.51L1109.16,266.77L1109.96,268.04L1110.75,269.3L1111.54,270.57L1112.34,271.84L1113.13,273.11L1113.92,274.37L1114.71,275.64L1115.5,276.91L1116.29,278.18L1117.08,279.46L1117.87,280.73L1118.66,282L1119.45,283.27L1120.24,284.54L1121.03,285.81L1121.82,287.08L1122.61,288.35L1123.41,289.63L1124.2,290.9L1125,292.17L1125.79,293.44L1126.59,294.71L1127.39,295.98L1128.2,297.25L1129,298.52L1129.81,299.78L1130.62,301.05L1131.43,302.32L1132.24,303.58L1133.06,304.85L1133.88,306.11L1134.7,307.38L1135.52,308.64L1136.35,309.9L1137.19,311.16L1138.02,312.42L1138.86,313.68L1139.7,314.93L1140.55,316.19L1141.4,317.44L1142.25,318.69L1143.11,319.94L1143.98,321.19L1144.85,322.44L1145.72,323.68L1146.6,324.92L1147.48,326.16L1148.37,327.4L1149.26,328.63L1150.16,329.85L1151.07,331.07L1151.98,332.29L1152.9,333.49L1153.82,334.7L1154.76,335.89L1155.69,337.08L1156.64,338.26L1157.59,339.43L1158.55,340.6L1159.52,341.75L1160.49,342.9L1161.48,344.03L1162.47,345.16L1163.47,346.27L1164.47,347.38L1165.49,348.47L1166.52,349.55L1167.55,350.61L1168.59,351.67L1169.65,352.71L1170.71,353.74L1171.78,354.75L1172.87,355.75L1173.96,356.73L1175.06,357.7L1176.17,358.65L1177.3,359.59L1178.43,360.51L1179.58,361.41L1180.73,362.29L1181.9,363.16L1183.08,364.01L1184.27,364.84L1185.48,365.65L1186.69,366.44L1187.92,367.21L1189.16,367.95L1190.42,368.68L1191.68,369.39L1192.96,370.07L1194.25,370.74L1195.56,371.37L1196.88,371.99L1198.21,372.59L1199.55,373.17L1200.9,373.73L1202.27,374.27L1203.64,374.79L1205.03,375.3L1206.42,375.79L1207.83,376.26L1209.24,376.72L1210.66,377.17L1212.09,377.6L1213.53,378.03L1214.97,378.44L1216.42,378.84L1217.88,379.22L1219.34,379.61L1220.81,379.98L1222.28,380.34L1223.76,380.7L1225.24,381.05L1226.73,381.4L1228.22,381.74L1229.71,382.08L1231.2,382.41L1232.7,382.75L1234.2,383.08L1235.7,383.41L1237.2,383.74L1238.7,384.07L1240.2,384.4L1241.7,384.74L1243.2,385.08L1244.69,385.42L1246.19,385.77L1247.68,386.12L1249.18,386.48L1250.66,386.84L1252.15,387.22L1253.63,387.6L1255.11,387.99L1256.58,388.39L1258.04,388.8L1259.5,389.22L1260.96,389.66L1262.41,390.11L1263.85,390.57L1265.29,391.04L1266.72,391.52L1268.14,392.02L1269.56,392.53L1270.97,393.05L1272.38,393.58L1273.78,394.13L1275.17,394.68L1276.56,395.25L1277.93,395.83L1279.31,396.42L1280.67,397.03L1282.03,397.64L1283.39,398.27L1284.73,398.91L1286.07,399.56L1287.4,400.22L1288.73,400.89L1290.05,401.57L1291.36,402.27L1292.66,402.98L1293.96,403.69L1295.25,404.42L1296.53,405.16L1297.81,405.92L1299.07,406.68L1300.33,407.45L1301.59,408.24L1302.83,409.03L1304.07,409.84L1305.3,410.66L1306.53,411.48L1307.74,412.32L1308.95,413.17L1310.15,414.03L1311.34,414.9L1312.53,415.78L1313.71,416.68L1314.88,417.58L1316.04,418.49L1317.19,419.41L1318.34,420.34L1319.48,421.29L1320.61,422.24L1321.74,423.2L1322.86,424.17L1323.97,425.14L1325.07,426.13L1326.17,427.13L1327.26,428.13L1328.35,429.15L1329.42,430.17L1330.5,431.2L1331.56,432.24L1332.62,433.28L1333.67,434.34L1334.72,435.4L1335.76,436.47L1336.79,437.55L1337.82,438.63L1338.84,439.72L1339.85,440.82L1340.86,441.93L1341.86,443.04L1342.86,444.16L1343.85,445.28L1344.84,446.41L1345.82,447.55L1346.8,448.69L1347.77,449.84L1348.73,451L1349.69,452.16L1350.64,453.32L1351.59,454.5L1352.54,455.67L1353.48,456.85L1354.41,458.04L1355.34,459.23L1356.26,460.43L1357.18,461.63L1358.1,462.83L1359.01,464.04L1359.92,465.25L1360.82,466.47L1361.72,467.69L1362.61,468.92L1363.5,470.14L1364.38,471.38L1365.26,472.61L1366.14,473.85L1367.01,475.09L1367.88,476.33L1368.75,477.58L1369.61,478.83L1370.47,480.08L1371.32,481.33L1372.17,482.59L1373.02,483.84L1373.86,485.1L1374.71,486.36L1375.54,487.63L1376.38,488.89L1377.21,490.15L1378.04,491.42L1378.86,492.69L1379.69,493.95L1380.51,495.22L1381.32,496.49L1382.14,497.76L1382.95,499.03L1383.76,500.3L1384.56,501.57L1385.37,502.84L1386.17,504.11L1386.97,505.38L1387.77,506.65L1388.56,507.92L1389.36,509.18L1390.15,510.45L1390.94,511.72L1391.73,512.98L1392.51,514.24L1393.3,515.5L1394.08,516.76L1394.86,518.02L1395.64,519.28L1396.42,520.53L1397.2,521.78L1397.97,523.03L1398.75,524.28L1399.52,525.52L1400.29,526.76L1401.06,528L1401.84,529.23L1402.6,530.46L1403.37,531.69L1404.14,532.92L1404.91,534.14L1405.68,535.36"/><path stroke="#0000ff" d="M1007.62,152.01L1008.58,153.16L1009.54,154.3L1010.51,155.45L1011.47,156.59L1012.43,157.73L1013.4,158.88L1014.37,160.02L1015.34,161.16L1016.3,162.3L1017.27,163.44L1018.24,164.57L1019.22,165.71L1020.19,166.85L1021.16,167.99L1022.13,169.13L1023.11,170.26L1024.08,171.4L1025.05,172.54L1026.03,173.67L1027,174.81L1027.98,175.94L1028.95,177.08L1029.93,178.22L1030.9,179.35L1031.88,180.49L1032.85,181.63L1033.82,182.76L1034.8,183.9L1035.77,185.04L1036.74,186.18L1037.71,187.31L1038.69,188.45L1039.66,189.59L1040.63,190.73L1041.6,191.87L1042.56,193.01L1043.53,194.16L1044.5,195.3L1045.46,196.44L1046.43,197.59L1047.39,198.73L1048.35,199.88L1049.31,201.03L1050.27,202.18L1051.23,203.33L1052.19,204.48L1053.14,205.63L1054.09,206.78L1055.04,207.94L1055.99,209.09L1056.94,210.25L1057.88,211.41L1058.83,212.57L1059.77,213.73L1060.71,214.9L1061.64,216.06L1062.58,217.23L1063.51,218.4L1064.44,219.57L1065.37,220.74L1066.29,221.92L1067.22,223.09L1068.14,224.27L1069.06,225.45L1069.98,226.63L1070.89,227.81L1071.81,228.99L1072.72,230.18L1073.63,231.36L1074.54,232.55L1075.45,233.74L1076.35,234.92L1077.26,236.11L1078.16,237.3L1079.06,238.5L1079.97,239.69L1080.87,240.88L1081.77,242.07L1082.67,243.27L1083.57,244.46L1084.46,245.66L1085.36,246.85L1086.26,248.05L1087.15,249.24L1088.05,250.44L1088.95,251.64L1089.84,252.83L1090.74,254.03L1091.64,255.23L1092.53,256.42L1093.43,257.62L1094.32,258.82L1095.22,260.01L1096.12,261.21L1097.02,262.41L1097.91,263.6L1098.81,264.8L1099.71,265.99L1100.61,267.18L1101.51,268.38L1102.42,269.57L1103.32,270.76L1104.22,271.95L1105.13,273.14L1106.04,274.33L1106.94,275.52L1107.85,276.71L1108.76,277.9L1109.68,279.08L1110.59,280.27L1111.51,281.45L1112.43,282.63L1113.35,283.81L1114.27,284.99L1115.19,286.17L1116.12,287.35L1117.05,288.53L1117.98,289.7L1118.92,290.87L1119.85,292.04L1120.79,293.21L1121.74,294.38L1122.68,295.55L1123.63,296.71L1124.58,297.88L1125.54,299.04L1126.5,300.2L1127.46,301.36L1128.43,302.51L1129.39,303.67L1130.37,304.82L1131.34,305.97L1132.32,307.12L1133.31,308.27L1134.3,309.41L1135.29,310.55L1136.29,311.69L1137.3,312.82L1138.31,313.94L1139.32,315.06L1140.34,316.18L1141.37,317.29L1142.4,318.39L1143.45,319.48L1144.49,320.56L1145.55,321.64L1146.61,322.71L1147.68,323.77L1148.76,324.81L1149.85,325.85L1150.95,326.88L1152.05,327.89L1153.16,328.89L1154.29,329.88L1155.42,330.86L1156.55,331.83L1157.7,332.79L1158.86,333.73L1160.02,334.67L1161.19,335.59L1162.37,336.5L1163.56,337.4L1164.75,338.28L1165.96,339.16L1167.17,340.02L1168.39,340.88L1169.61,341.72L1170.85,342.55L1172.09,343.36L1173.34,344.17L1174.59,344.96L1175.85,345.74L1177.12,346.51L1178.4,347.27L1179.68,348.02L1180.98,348.75L1182.27,349.48L1183.58,350.19L1184.89,350.89L1186.2,351.57L1187.53,352.25L1188.86,352.91L1190.19,353.57L1191.54,354.2L1192.89,354.83L1194.24,355.45L1195.6,356.05L1196.97,356.64L1198.34,357.22L1199.72,357.79L1201.1,358.35L1202.49,358.89L1203.89,359.42L1205.29,359.94L1206.7,360.45L1208.11,360.94L1209.52,361.42L1210.95,361.9L1212.37,362.36L1213.8,362.81L1215.24,363.25L1216.68,363.68L1218.12,364.11L1219.56,364.53L1221.01,364.94L1222.46,365.34L1223.91,365.74L1225.37,366.14L1226.83,366.53L1228.29,366.91L1229.75,367.3L1231.21,367.68L1232.67,368.05L1234.14,368.43L1235.6,368.81L1237.06,369.18L1238.53,369.56L1239.99,369.93L1241.45,370.31L1242.91,370.69L1244.37,371.08L1245.83,371.46L1247.29,371.86L1248.75,372.25L1250.2,372.65L1251.65,373.06L1253.1,373.47L1254.54,373.89L1255.98,374.32L1257.42,374.75L1258.85,375.2L1260.28,375.65L1261.71,376.12L1263.13,376.59L1264.55,377.08L1265.96,377.58L1267.36,378.09L1268.76,378.61L1270.16,379.15L1271.55,379.7L1272.93,380.26L1274.3,380.84L1275.67,381.44L1277.03,382.05L1278.39,382.67L1279.74,383.3L1281.08,383.95L1282.42,384.62L1283.75,385.29L1285.07,385.98L1286.39,386.68L1287.7,387.4L1289.01,388.12L1290.3,388.86L1291.6,389.61L1292.88,390.37L1294.16,391.15L1295.43,391.93L1296.7,392.73L1297.96,393.54L1299.21,394.36L1300.45,395.19L1301.69,396.03L1302.92,396.88L1304.15,397.74L1305.37,398.61L1306.58,399.49L1307.79,400.38L1308.99,401.28L1310.18,402.19L1311.36,403.11L1312.54,404.04L1313.71,404.98L1314.88,405.92L1316.04,406.88L1317.19,407.84L1318.33,408.81L1319.47,409.79L1320.6,410.77L1321.73,411.77L1322.84,412.77L1323.96,413.77L1325.06,414.79L1326.16,415.81L1327.25,416.84L1328.33,417.88L1329.4,418.92L1330.47,419.97L1331.54,421.02L1332.59,422.08L1333.64,423.15L1334.69,424.22L1335.72,425.29L1336.76,426.38L1337.78,427.47L1338.8,428.56L1339.82,429.66L1340.82,430.76L1341.83,431.87L1342.82,432.99L1343.82,434.11L1344.8,435.23L1345.79,436.36L1346.76,437.49L1347.74,438.63L1348.7,439.77L1349.67,440.92L1350.62,442.07L1351.58,443.22L1352.53,444.38L1353.47,445.54L1354.42,446.7L1355.35,447.87L1356.29,449.04L1357.22,450.22L1358.14,451.4L1359.07,452.58L1359.99,453.76L1360.9,454.95L1361.82,456.14L1362.73,457.33L1363.63,458.52L1364.54,459.72L1365.44,460.92L1366.34,462.12L1367.23,463.32L1368.13,464.53L1369.02,465.73L1369.91,466.94L1370.8,468.15L1371.68,469.36L1372.57,470.58L1373.45,471.79L1374.33,473L1375.21,474.22L1376.08,475.44L1376.96,476.65L1377.83,477.87L1378.71,479.09L1379.58,480.31L1380.45,481.53L1381.32,482.75L1382.19,483.97L1383.06,485.19L1383.92,486.42L1384.78,487.64L1385.64,488.87L1386.5,490.1L1387.35,491.33L1388.2,492.56L1389.05,493.79L1389.89,495.03L1390.72,496.27L1391.55,497.51L1392.38,498.76L1393.2,500.01L1394.02,501.26L1394.83,502.51L1395.63,503.77L1396.43,505.04L1397.22,506.31L1398,507.58L1398.78,508.86L1399.55,510.14L1400.31,511.42L1401.06,512.72L1401.81,514.01L1402.54,515.31L1403.27,516.62L1403.99,517.94L1404.7,519.26L1405.39,520.58L1406.08,521.91L1406.76,523.25L1407.43,524.6L1408.08,525.95"/></g><defs><g id="lab" stroke="#000" fill="none" stroke-linecap="round" stroke-linejoin="round" stroke-width="1.5"><path transform="translate(105,58.4) scale(33.3)" d="M0.035,-0.775 C0.12,-0.81 0.2,-0.87 0.265,-0.985 L0.25,-0.035" stroke-width="0.05"/><path transform="translate(129.8,58.4) scale(33.3)" d="M0.36,-0.967 C0.54,-0.967 0.685,-0.78 0.685,-0.5 C0.685,-0.22 0.54,-0.033 0.36,-0.033 C0.18,-0.033 0.035,-0.22 0.035,-0.5 C0.035,-0.78 0.18,-0.967 0.36,-0.967 Z" stroke-width="0.05"/><path transform="translate(105,180.25) scale(33.3)" d="M0.035,-0.775 C0.12,-0.81 0.2,-0.87 0.265,-0.985 L0.25,-0.035" stroke-width="0.05"/><path transform="translate(129.8,180.25) scale(33.3)" d="M0.36,-0.967 C0.54,-0.967 0.685,-0.78 0.685,-0.5 C0.685,-0.22 0.54,-0.033 0.36,-0.033 C0.18,-0.033 0.035,-0.22 0.035,-0.5 C0.035,-0.78 0.18,-0.967 0.36,-0.967 Z" stroke-width="0.05"/><path transform="translate(105,302.1) scale(33.3)" d="M0.035,-0.775 C0.12,-0.81 0.2,-0.87 0.265,-0.985 L0.25,-0.035" stroke-width="0.05"/><path transform="translate(129.8,302.1) scale(33.3)" d="M0.36,-0.967 C0.54,-0.967 0.685,-0.78 0.685,-0.5 C0.685,-0.22 0.54,-0.033 0.36,-0.033 C0.18,-0.033 0.035,-0.22 0.035,-0.5 C0.035,-0.78 0.18,-0.967 0.36,-0.967 Z" stroke-width="0.05"/><path transform="translate(105,423.95) scale(33.3)" d="M0.035,-0.775 C0.12,-0.81 0.2,-0.87 0.265,-0.985 L0.25,-0.035" stroke-width="0.05"/><path transform="translate(129.8,423.95) scale(33.3)" d="M0.36,-0.967 C0.54,-0.967 0.685,-0.78 0.685,-0.5 C0.685,-0.22 0.54,-0.033 0.36,-0.033 C0.18,-0.033 0.035,-0.22 0.035,-0.5 C0.035,-0.78 0.18,-0.967 0.36,-0.967 Z" stroke-width="0.05"/><path transform="translate(105,545.8) scale(33.3)" d="M0.035,-0.775 C0.12,-0.81 0.2,-0.87 0.265,-0.985 L0.25,-0.035" stroke-width="0.05"/><path transform="translate(129.8,545.8) scale(33.3)" d="M0.36,-0.967 C0.54,-0.967 0.685,-0.78 0.685,-0.5 C0.685,-0.22 0.54,-0.033 0.36,-0.033 C0.18,-0.033 0.035,-0.22 0.035,-0.5 C0.035,-0.78 0.18,-0.967 0.36,-0.967 Z" stroke-width="0.05"/><path transform="translate(223.7,597.9) scale(33.3)" d="M0.035,-0.775 C0.12,-0.81 0.2,-0.87 0.265,-0.985 L0.25,-0.035" stroke-width="0.05"/><path transform="translate(248.4,597.9) scale(33.3)" d="M0.36,-0.967 C0.54,-0.967 0.685,-0.78 0.685,-0.5 C0.685,-0.22 0.54,-0.033 0.36,-0.033 C0.18,-0.033 0.035,-0.22 0.035,-0.5 C0.035,-0.78 0.18,-0.967 0.36,-0.967 Z" stroke-width="0.05"/><path transform="translate(331.7,597.9) scale(33.3)" d="M0.035,-0.775 C0.12,-0.81 0.2,-0.87 0.265,-0.985 L0.25,-0.035" stroke-width="0.05"/><path transform="translate(356.4,597.9) scale(33.3)" d="M0.36,-0.967 C0.54,-0.967 0.685,-0.78 0.685,-0.5 C0.685,-0.22 0.54,-0.033 0.36,-0.033 C0.18,-0.033 0.035,-0.22 0.035,-0.5 C0.035,-0.78 0.18,-0.967 0.36,-0.967 Z" stroke-width="0.05"/><path transform="translate(440.2,597.9) scale(33.3)" d="M0.035,-0.775 C0.12,-0.81 0.2,-0.87 0.265,-0.985 L0.25,-0.035" stroke-width="0.05"/><path transform="translate(464.9,597.9) scale(33.3)" d="M0.36,-0.967 C0.54,-0.967 0.685,-0.78 0.685,-0.5 C0.685,-0.22 0.54,-0.033 0.36,-0.033 C0.18,-0.033 0.035,-0.22 0.035,-0.5 C0.035,-0.78 0.18,-0.967 0.36,-0.967 Z" stroke-width="0.05"/><path transform="translate(549,597.9) scale(33.3)" d="M0.035,-0.775 C0.12,-0.81 0.2,-0.87 0.265,-0.985 L0.25,-0.035" stroke-width="0.05"/><path transform="translate(573.7,597.9) scale(33.3)" d="M0.36,-0.967 C0.54,-0.967 0.685,-0.78 0.685,-0.5 C0.685,-0.22 0.54,-0.033 0.36,-0.033 C0.18,-0.033 0.035,-0.22 0.035,-0.5 C0.035,-0.78 0.18,-0.967 0.36,-0.967 Z" stroke-width="0.05"/><path transform="translate(623.6,597.9) scale(33.3)" d="M0.035,-0.775 C0.12,-0.81 0.2,-0.87 0.265,-0.985 L0.25,-0.035" stroke-width="0.05"/><path transform="translate(648.3,597.9) scale(33.3)" d="M0.36,-0.967 C0.54,-0.967 0.685,-0.78 0.685,-0.5 C0.685,-0.22 0.54,-0.033 0.36,-0.033 C0.18,-0.033 0.035,-0.22 0.035,-0.5 C0.035,-0.78 0.18,-0.967 0.36,-0.967 Z" stroke-width="0.05"/><path transform="translate(731.6,597.9) scale(33.3)" d="M0.035,-0.775 C0.12,-0.81 0.2,-0.87 0.265,-0.985 L0.25,-0.035" stroke-width="0.05"/><path transform="translate(756.3,597.9) scale(33.3)" d="M0.36,-0.967 C0.54,-0.967 0.685,-0.78 0.685,-0.5 C0.685,-0.22 0.54,-0.033 0.36,-0.033 C0.18,-0.033 0.035,-0.22 0.035,-0.5 C0.035,-0.78 0.18,-0.967 0.36,-0.967 Z" stroke-width="0.05"/><path transform="translate(840.1,597.9) scale(33.3)" d="M0.035,-0.775 C0.12,-0.81 0.2,-0.87 0.265,-0.985 L0.25,-0.035" stroke-width="0.05"/><path transform="translate(864.8,597.9) scale(33.3)" d="M0.36,-0.967 C0.54,-0.967 0.685,-0.78 0.685,-0.5 C0.685,-0.22 0.54,-0.033 0.36,-0.033 C0.18,-0.033 0.035,-0.22 0.035,-0.5 C0.035,-0.78 0.18,-0.967 0.36,-0.967 Z" stroke-width="0.05"/><path transform="translate(948.9,597.9) scale(33.3)" d="M0.035,-0.775 C0.12,-0.81 0.2,-0.87 0.265,-0.985 L0.25,-0.035" stroke-width="0.05"/><path transform="translate(973.6,597.9) scale(33.3)" d="M0.36,-0.967 C0.54,-0.967 0.685,-0.78 0.685,-0.5 C0.685,-0.22 0.54,-0.033 0.36,-0.033 C0.18,-0.033 0.035,-0.22 0.035,-0.5 C0.035,-0.78 0.18,-0.967 0.36,-0.967 Z" stroke-width="0.05"/><path transform="translate(1023.6,597.9) scale(33.3)" d="M0.035,-0.775 C0.12,-0.81 0.2,-0.87 0.265,-0.985 L0.25,-0.035" stroke-width="0.05"/><path transform="translate(1048.3,597.9) scale(33.3)" d="M0.36,-0.967 C0.54,-0.967 0.685,-0.78 0.685,-0.5 C0.685,-0.22 0.54,-0.033 0.36,-0.033 C0.18,-0.033 0.035,-0.22 0.035,-0.5 C0.035,-0.78 0.18,-0.967 0.36,-0.967 Z" stroke-width="0.05"/><path transform="translate(1131.6,597.9) scale(33.3)" d="M0.035,-0.775 C0.12,-0.81 0.2,-0.87 0.265,-0.985 L0.25,-0.035" stroke-width="0.05"/><path transform="translate(1156.3,597.9) scale(33.3)" d="M0.36,-0.967 C0.54,-0.967 0.685,-0.78 0.685,-0.5 C0.685,-0.22 0.54,-0.033 0.36,-0.033 C0.18,-0.033 0.035,-0.22 0.035,-0.5 C0.035,-0.78 0.18,-0.967 0.36,-0.967 Z" stroke-width="0.05"/><path transform="translate(1240.1,597.9) scale(33.3)" d="M0.035,-0.775 C0.12,-0.81 0.2,-0.87 0.265,-0.985 L0.25,-0.035" stroke-width="0.05"/><path transform="translate(1264.8,597.9) scale(33.3)" d="M0.36,-0.967 C0.54,-0.967 0.685,-0.78 0.685,-0.5 C0.685,-0.22 0.54,-0.033 0.36,-0.033 C0.18,-0.033 0.035,-0.22 0.035,-0.5 C0.035,-0.78 0.18,-0.967 0.36,-0.967 Z" stroke-width="0.05"/><path transform="translate(1348.9,597.9) scale(33.3)" d="M0.035,-0.775 C0.12,-0.81 0.2,-0.87 0.265,-0.985 L0.25,-0.035" stroke-width="0.05"/><path transform="translate(1373.6,597.9) scale(33.3)" d="M0.36,-0.967 C0.54,-0.967 0.685,-0.78 0.685,-0.5 C0.685,-0.22 0.54,-0.033 0.36,-0.033 C0.18,-0.033 0.035,-0.22 0.035,-0.5 C0.035,-0.78 0.18,-0.967 0.36,-0.967 Z" stroke-width="0.05"/></g></defs><use href="#lab" transform="translate(-0.53,0.53)"/><use href="#lab" transform="translate(-0.27,0.27)"/><use href="#lab" transform="translate(0,-0)"/><use href="#lab" transform="translate(0.27,-0.27)"/><use href="#lab" transform="translate(0.53,-0.53)"/><defs><g id="sup" stroke="#000" fill="none" stroke-linecap="round" stroke-linejoin="round" stroke-width="1.9"><path d="M156.6,14.4L173.2,14.4"/><path transform="translate(180.4,25.6)" d="M3.2,-23.7 L15.8,-23.7 L7.3,-13.2 C11,-15.2 15.6,-14 15.6,-9 C15.6,-4.2 11.8,-1.7 7.8,-1.7 C5,-1.7 3,-2.6 1.4,-4.5"/><path d="M156.6,136.25L173.2,136.25"/><path transform="translate(180.4,147.45)" d="M13,-23.8 L1.5,-8.4 L18.2,-8.4 M12.9,-24.3 L12.4,-1.4"/><path d="M156.6,258.1L173.2,258.1"/><path transform="translate(180.4,269.3)" d="M16,-24.2 L4.6,-24.2 L3.1,-12.8 C5,-15.3 7.6,-16 10.2,-16 C14,-16 16.1,-13 16.1,-9.3 C16.1,-4.8 12.9,-1.6 9,-1.6 C6,-1.6 3.5,-2.6 1.7,-4.8"/><path d="M156.6,379.95L173.2,379.95"/><path transform="translate(180.4,391.15)" d="M15.2,-22.6 C13.8,-24.2 12,-24.4 10.2,-24.4 C5,-24.4 1.8,-19 1.8,-11 C1.8,-4.5 4.5,-1.6 8.3,-1.6 C12.5,-1.6 15.3,-4.5 15.3,-8.6 C15.3,-12.6 12.5,-15.3 8.6,-15.3 C5.5,-15.3 3,-13.5 1.8,-11"/><path d="M156.6,501.8L173.2,501.8"/><path transform="translate(180.4,513)" d="M1.6,-23.6 L16.2,-23.6 L5.2,-1"/><path transform="translate(380.5,564.6)" d="M2.2,-18 C3,-22 6.5,-24 10,-24 C13.8,-24 16.3,-21.5 16.3,-18.3 C16.3,-15.5 14.5,-13.2 11.5,-10.5 L1.8,-1.7 L17.8,-1.7"/><path transform="translate(489,564.6)" d="M3.2,-23.7 L15.8,-23.7 L7.3,-13.2 C11,-15.2 15.6,-14 15.6,-9 C15.6,-4.2 11.8,-1.7 7.8,-1.7 C5,-1.7 3,-2.6 1.4,-4.5"/><path transform="translate(597.8,564.6)" d="M13,-23.8 L1.5,-8.4 L18.2,-8.4 M12.9,-24.3 L12.4,-1.4"/><path transform="translate(780.4,564.6)" d="M2.2,-18 C3,-22 6.5,-24 10,-24 C13.8,-24 16.3,-21.5 16.3,-18.3 C16.3,-15.5 14.5,-13.2 11.5,-10.5 L1.8,-1.7 L17.8,-1.7"/><path transform="translate(888.9,564.6)" d="M3.2,-23.7 L15.8,-23.7 L7.3,-13.2 C11,-15.2 15.6,-14 15.6,-9 C15.6,-4.2 11.8,-1.7 7.8,-1.7 C5,-1.7 3,-2.6 1.4,-4.5"/><path transform="translate(997.7,564.6)" d="M13,-23.8 L1.5,-8.4 L18.2,-8.4 M12.9,-24.3 L12.4,-1.4"/><path transform="translate(1180.4,564.6)" d="M2.2,-18 C3,-22 6.5,-24 10,-24 C13.8,-24 16.3,-21.5 16.3,-18.3 C16.3,-15.5 14.5,-13.2 11.5,-10.5 L1.8,-1.7 L17.8,-1.7"/><path transform="translate(1288.9,564.6)" d="M3.2,-23.7 L15.8,-23.7 L7.3,-13.2 C11,-15.2 15.6,-14 15.6,-9 C15.6,-4.2 11.8,-1.7 7.8,-1.7 C5,-1.7 3,-2.6 1.4,-4.5"/><path transform="translate(1397.7,564.6)" d="M13,-23.8 L1.5,-8.4 L18.2,-8.4 M12.9,-24.3 L12.4,-1.4"/></g></defs><use href="#sup" transform="translate(-0.92,0.92)"/><use href="#sup" transform="translate(-0.46,0.46)"/><use href="#sup" transform="translate(0,-0)"/><use href="#sup" transform="translate(0.46,-0.46)"/><use href="#sup" transform="translate(0.92,-0.92)"/><circle cx="173.3" cy="45.4" r="0.7" fill="#999"/><circle cx="173.3" cy="167.25" r="0.7" fill="#999"/><circle cx="173.3" cy="289.1" r="0.7" fill="#999"/><circle cx="173.3" cy="410.95" r="0.7" fill="#999"/><circle cx="173.3" cy="532.8" r="0.7" fill="#999"/><defs><g id="big" stroke="#000" fill="none" stroke-linecap="round" stroke-linejoin="round" stroke-width="1.6"><path transform="translate(445.2,169.4)" d="M25,-42.6 L5.6,-42.6 L3.6,-27.6 C6.2,-29.6 10,-30.6 14.6,-30.6 C23,-30.6 29,-25 29,-16.5 C29,-7.5 23,-1.6 15.5,-1.6 C10,-1.6 5,-3.5 1.8,-7.5"/><path d="M508.8,127.8 L508.8,168.6 M508.8,145 C505.5,141.5 501.5,140.6 497.5,140.6 C490,140.6 485.9,147 485.9,154.6 C485.9,162.4 490,167.8 497.5,167.8 C501.5,167.8 505.5,166.8 508.8,163.6"/><path transform="translate(869.4,169.4)" d="M25,-42.6 L5.6,-42.6 L3.6,-27.6 C6.2,-29.6 10,-30.6 14.6,-30.6 C23,-30.6 29,-25 29,-16.5 C29,-7.5 23,-1.6 15.5,-1.6 C10,-1.6 5,-3.5 1.8,-7.5"/><path d="M912.9,167.8 L913.3,137.5 C913.5,130.5 916.5,127 920.2,127 L923.3,126.8 M907.2,140.8 L922.3,140.4"/><path d="M1272.2,133.4 C1270.3,129 1267.3,126.9 1263.5,126.9 C1254,126.9 1248.3,136 1248.3,150 C1248.3,161 1252.6,167.8 1260.6,167.8 C1268.6,167.8 1274.5,162 1274.5,154 C1274.5,146.5 1269,141.9 1261.5,141.9 C1255.5,141.9 1250.6,145 1248.4,151"/><path d="M1288,140 L1288,181.5 M1288,145.5 C1291,141.8 1295.5,140.5 1299.5,140.5 C1307,140.5 1311.4,146.5 1311.4,154.1 C1311.4,162 1307,167.8 1299.5,167.8 C1295.5,167.8 1291,166.5 1288,163.2"/></g></defs><use href="#big" transform="translate(-0.85,0.85)"/><use href="#big" transform="translate(-0.51,0.51)"/><use href="#big" transform="translate(-0.17,0.17)"/><use href="#big" transform="translate(0.17,-0.17)"/><use href="#big" transform="translate(0.51,-0.51)"/><use href="#big" transform="translate(0.85,-0.85)"/><defs><g id="sub" stroke="#000" fill="none" stroke-linecap="round" stroke-linejoin="round" stroke-width="1.6"><path transform="translate(518.6,178.4) scale(0.92)" d="M3.2,-23.7 L15.8,-23.7 L7.3,-13.2 C11,-15.2 15.6,-14 15.6,-9 C15.6,-4.2 11.8,-1.7 7.8,-1.7 C5,-1.7 3,-2.6 1.4,-4.5" stroke-width="1.74"/><path d="M555.8,153.2 L537,184.6"/><path transform="translate(558.2,179) scale(0.93)" d="M2.2,-18 C3,-22 6.5,-24 10,-24 C13.8,-24 16.3,-21.5 16.3,-18.3 C16.3,-15.5 14.5,-13.2 11.5,-10.5 L1.8,-1.7 L17.8,-1.7" stroke-width="1.72"/><path transform="translate(928,179) scale(0.92)" d="M16,-24.2 L4.6,-24.2 L3.1,-12.8 C5,-15.3 7.6,-16 10.2,-16 C14,-16 16.1,-13 16.1,-9.3 C16.1,-4.8 12.9,-1.6 9,-1.6 C6,-1.6 3.5,-2.6 1.7,-4.8" stroke-width="1.74"/><path d="M966.8,153.2 L948,184.6"/><path transform="translate(968.4,179) scale(0.93)" d="M2.2,-18 C3,-22 6.5,-24 10,-24 C13.8,-24 16.3,-21.5 16.3,-18.3 C16.3,-15.5 14.5,-13.2 11.5,-10.5 L1.8,-1.7 L17.8,-1.7" stroke-width="1.72"/><path transform="translate(1321.4,178.4)" d="M0.8,-16.8 C3,-17.6 5.5,-19.5 7.6,-22.2 L6.2,-0.8"/><path d="M1356,153.2 L1337.2,184.6"/><path transform="translate(1358,179) scale(0.93)" d="M2.2,-18 C3,-22 6.5,-24 10,-24 C13.8,-24 16.3,-21.5 16.3,-18.3 C16.3,-15.5 14.5,-13.2 11.5,-10.5 L1.8,-1.7 L17.8,-1.7" stroke-width="1.72"/></g></defs><use href="#sub" transform="translate(-0.71,0.71)"/><use href="#sub" transform="translate(-0.35,0.35)"/><use href="#sub" transform="translate(0,-0)"/><use href="#sub" transform="translate(0.35,-0.35)"/><use href="#sub" transform="translate(0.71,-0.71)"/><defs><g id="xt" stroke="#000" fill="none" stroke-linecap="round" stroke-linejoin="round" stroke-width="1.6"><path d="M733.5,641.3 L708.6,641.3 L708.6,681 L733.5,681 M708.6,661 L724.3,661"/><path d="M741.2,672 L741.2,692.5 M751.8,677.3 L742,686.2 M745.5,683.3 L752.3,691.5"/><path d="M776.3,632.8 C764.5,643 761.2,655 761.2,664 C761.2,673 764.5,685 776.3,695.4"/><path d="M786,665.5 L810,665.5 C810,658.5 805,654.5 798,654.5 C790,654.5 786,661 786,668 C786,676 790.5,681.2 798,681.2 C803,681.2 807,679 810.3,675.6"/><path d="M818.4,640.6 L833.2,681.2 L849.2,640.6"/><path d="M855.6,632.8 C867.4,643 870.6,655 870.6,664 C870.6,673 867.4,685 855.6,695.4"/></g></defs><use href="#xt" transform="translate(-0.99,0.99)"/><use href="#xt" transform="translate(-0.66,0.66)"/><use href="#xt" transform="translate(-0.33,0.33)"/><use href="#xt" transform="translate(-0,0)"/><use href="#xt" transform="translate(0.33,-0.33)"/><use href="#xt" transform="translate(0.66,-0.66)"/><use href="#xt" transform="translate(0.99,-0.99)"/><defs><g id="yt" stroke="#000" fill="none" stroke-linecap="round" stroke-linejoin="round" stroke-width="1.5"><path d="M1,197.5 C15,183 30,177.6 42,177.6 C54,177.6 68,182.5 82,195.4"/><path d="M11.5,239.6 L65,239.6"/><path d="M47,211.2 C56,211.2 64.8,217 64.8,225 C64.8,233 56,238.6 47,238.6 C38,238.6 29.4,233 29.4,225 C29.4,217 38,211.2 47,211.2 Z"/><path d="M65.5,301.6 L12.5,301.6 L65.2,281 L12.5,261 L65.5,261"/><path d="M2.5,319.5 C15,331 28,337 41,337 C54,337 68,331 83,318.5"/><path d="M59.8,358.3 L79,358.3 M68.5,357.2 C63,356.2 59.8,353.2 59.8,350.2 C59.8,348.6 60.6,347.2 62.3,346.5"/><path d="M59.8,374.8 L79,374.8 M68.5,373.7 C63,372.7 59.8,369.7 59.8,366.9 C59.8,365.3 60.6,364 62.3,363.3"/><path d="M29.5,384 L29.5,406 M47.5,393.8 C57,393.8 65,400 65,408.5 C65,417 57,422.5 47.5,422.5 C38,422.5 29.5,417 29.5,408.5 C29.5,400 38,393.8 47.5,393.8 Z"/></g></defs><use href="#yt" transform="translate(-0.99,0.99)"/><use href="#yt" transform="translate(-0.33,0.33)"/><use href="#yt" transform="translate(0.33,-0.33)"/><use href="#yt" transform="translate(0.99,-0.99)"/></svg>
</body></html>
